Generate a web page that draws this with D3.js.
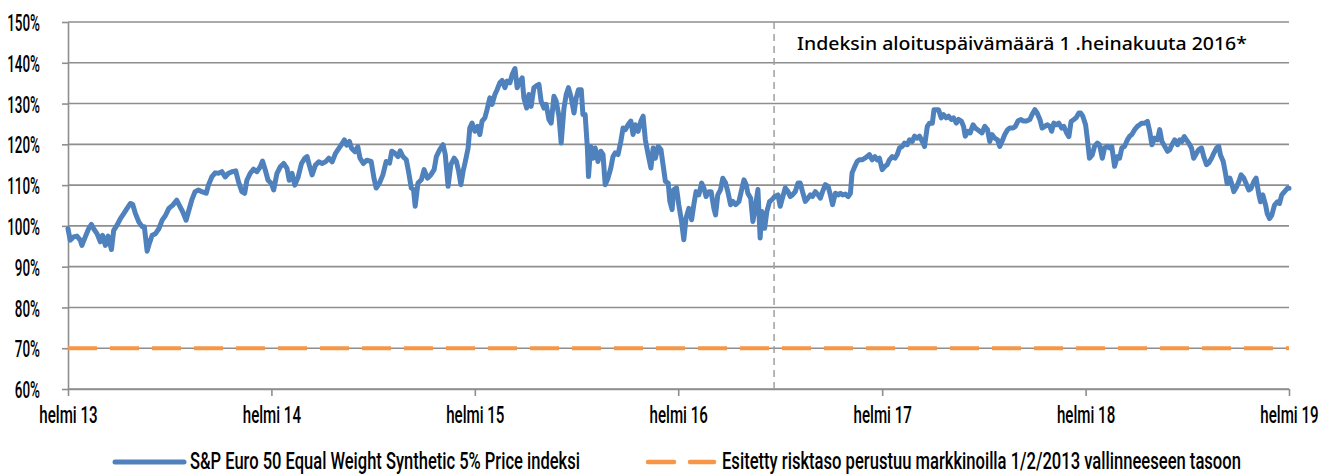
<!DOCTYPE html>
<html>
<head>
<meta charset="utf-8">
<script src="https://cdn.jsdelivr.net/npm/d3@7"></script>
<style>
    body { margin: 0; background: #fff; }
    svg { display: block; }
</style>
</head>
<body>
<svg id="chart" width="1332" height="476"></svg>
<script>
// Chart data

const startDate = new Date(2013, 1, 1);   // helmi 13
const endDate = new Date(2019, 1, 1);     // helmi 19

const xTickDates = [
    new Date(2013, 1, 1), new Date(2014, 1, 1), new Date(2015, 1, 1), new Date(2016, 1, 1),
    new Date(2017, 1, 1), new Date(2018, 1, 1), new Date(2019, 1, 1)
];
const xTickLabels = ['helmi 13', 'helmi 14', 'helmi 15', 'helmi 16', 'helmi 17', 'helmi 18', 'helmi 19'];
const yTicks = [60, 70, 80, 90, 100, 110, 120, 130, 140, 150];

const riskLevel = 70;            // % level of the dashed orange line
const launchDayOffset = 1267;    // days after startDate where the dashed marker sits

const seriesName = 'S&P Euro 50 Equal Weight Synthetic 5% Price indeksi';
const riskName = 'Esitetty risktaso perustuu markkinoilla 1/2/2013 vallinneeseen tasoon';
const launchNote = 'Indeksin aloituspäivämäärä 1 .heinakuuta 2016*';

// [days after startDate, index level %]
const indexSeries = [
    [0, 99.3], [4, 96.5], [10, 97.3], [16, 97.5], [22, 96.5], [25, 95.2], [31, 97.3], [37, 99.3],
    [42, 100.4], [46, 99.3], [52, 98.1], [58, 96.1], [62, 97.7], [67, 95.2], [72, 97.5], [78, 94.2],
    [82, 98.9], [88, 100.2], [94, 101.8], [100, 103.0], [106, 104.3], [112, 105.5], [116, 105.3],
    [121, 103.0], [127, 101.0], [133, 99.8], [137, 99.8], [142, 93.8], [146, 95.7], [151, 97.7],
    [157, 98.1], [163, 99.3], [169, 101.4], [175, 102.6], [181, 104.3], [188, 105.1], [195, 106.3],
    [201, 104.7], [206, 103.4], [212, 101.4], [216, 103.4], [222, 106.3], [228, 108.4], [234, 108.8],
    [240, 108.4], [248, 108.0], [252, 110.0], [258, 112.0], [264, 113.0], [270, 112.9], [276, 113.3],
    [282, 112.0], [288, 112.9], [295, 113.3], [301, 113.5], [306, 110.8], [312, 108.4], [317, 108.0],
    [321, 111.2], [327, 112.9], [333, 113.9], [339, 113.3], [345, 114.5], [349, 115.9], [354, 113.7],
    [359, 111.2], [365, 110.4], [369, 108.8], [375, 112.9], [381, 114.5], [387, 115.3], [393, 114.1],
    [397, 111.2], [402, 112.9], [407, 110.0], [413, 112.0], [419, 115.3], [425, 116.6], [429, 117.0],
    [433, 114.9], [438, 112.5], [444, 114.9], [450, 115.7], [456, 115.3], [462, 115.7], [468, 116.6],
    [474, 115.7], [480, 117.8], [486, 119.0], [492, 120.2], [496, 121.1], [500, 119.8], [505, 120.7],
    [509, 119.0], [515, 118.2], [520, 119.4], [524, 116.6], [530, 115.3], [536, 116.1],
    [544, 115.8], [549, 111.7], [553, 109.3], [559, 110.5], [565, 112.5], [571, 115.8], [577, 115.4],
    [581, 118.3], [586, 117.9], [592, 117.0], [596, 118.4], [601, 117.0], [607, 116.2], [611, 113.4],
    [616, 109.3], [620, 108.9], [623, 104.8], [628, 110.5], [634, 111.3], [639, 113.8], [645, 111.7],
    [651, 112.5], [657, 113.8], [661, 117.0], [667, 118.7], [673, 119.9], [677, 117.5], [682, 109.7],
    [687, 115.0], [693, 116.6], [697, 115.8], [701, 113.4], [705, 110.1], [709, 113.4], [713, 115.8],
    [718, 119.1], [721, 124.0], [725, 125.2], [730, 123.2], [735, 124.4], [739, 122.4], [743, 125.7],
    [748, 126.5], [752, 128.5], [757, 131.4], [761, 129.8], [766, 132.2], [770, 133.4], [775, 135.1],
    [779, 135.7], [784, 133.9], [788, 135.5], [793, 135.1], [797, 137.1], [802, 138.6], [806, 133.9],
    [811, 135.5], [815, 136.3], [818, 131.4], [823, 128.9], [827, 132.2], [831, 129.3], [836, 133.9],
    [840, 134.3], [845, 134.7], [849, 130.6], [854, 128.9], [858, 129.8], [863, 126.1], [867, 125.2],
    [872, 131.8], [876, 130.6], [881, 126.9], [885, 120.3], [890, 128.9], [894, 132.2], [898, 133.9],
    [903, 131.4], [908, 127.7], [912, 131.4], [916, 133.4], [921, 133.4], [924, 127.3], [928, 127.3],
    [932, 119.1], [934, 112.1], [938, 119.5], [942, 116.6], [946, 119.1], [951, 115.8], [956, 118.3],
    [960, 117.5], [964, 110.1], [969, 111.7], [974, 114.2], [978, 117.0], [982, 117.9], [987, 117.5],
    [992, 120.7], [996, 124.0], [1000, 123.6], [1005, 124.8], [1010, 125.7], [1014, 122.4], [1018, 124.8],
    [1023, 123.2], [1028, 125.7], [1032, 126.9], [1036, 121.1], [1041, 117.5], [1046, 114.2], [1050, 119.1],
    [1054, 116.6], [1059, 119.5], [1064, 118.7], [1068, 114.8], [1072, 110.9], [1077, 110.5], [1080, 106.0],
    [1084, 104.0], [1087, 108.9], [1092, 109.3],
    [1096, 105.2], [1101, 101.1], [1105, 96.6], [1109, 101.9], [1114, 104.3], [1119, 101.5], [1123, 105.2],
    [1127, 108.4], [1132, 107.6], [1137, 110.5], [1141, 109.3], [1145, 107.2], [1150, 108.4], [1154, 108.4],
    [1159, 104.3], [1162, 102.7], [1166, 107.6], [1171, 108.9], [1175, 111.7], [1180, 110.5], [1184, 108.4],
    [1189, 105.2], [1193, 106.0], [1198, 105.2], [1204, 106.0], [1208, 108.4], [1213, 111.3], [1217, 110.1],
    [1220, 108.0], [1225, 106.8], [1229, 101.1], [1233, 104.3], [1238, 108.9], [1242, 97.0], [1245, 103.5],
    [1250, 99.4], [1254, 103.5], [1259, 106.0], [1263, 106.4], [1268, 107.2], [1274, 107.6], [1278, 104.8],
    [1282, 106.8], [1287, 109.3], [1292, 108.4], [1296, 107.2], [1300, 107.6], [1305, 108.4], [1310, 110.5],
    [1314, 110.5], [1318, 108.4], [1323, 106.0], [1328, 106.8], [1332, 107.6], [1336, 107.2], [1341, 108.4],
    [1346, 107.6], [1350, 106.8], [1354, 108.4], [1359, 110.1], [1364, 109.7], [1368, 107.6], [1372, 105.2],
    [1377, 108.0], [1382, 107.6], [1386, 108.0], [1390, 107.6], [1395, 107.8], [1400, 107.2], [1404, 108.0],
    [1407, 113.0], [1412, 114.6], [1416, 115.8], [1420, 116.2], [1425, 116.2], [1430, 116.6], [1434, 117.0],
    [1438, 117.5], [1443, 116.2], [1448, 117.0], [1452, 116.2], [1456, 116.6], [1461, 113.8], [1466, 114.6],
    [1470, 115.0], [1474, 116.2], [1479, 117.0], [1484, 116.6], [1488, 117.5], [1492, 119.1], [1497, 119.5],
    [1501, 120.3], [1506, 119.9], [1510, 121.1], [1515, 120.7], [1519, 122.0], [1524, 121.5], [1528, 122.0],
    [1533, 120.7], [1537, 119.5], [1542, 124.4], [1546, 125.2], [1551, 125.2], [1554, 128.5], [1558, 128.5],
    [1562, 128.5], [1567, 126.5], [1571, 127.3], [1576, 126.5], [1580, 126.9], [1585, 126.1], [1589, 126.5],
    [1594, 125.2], [1598, 126.1], [1603, 125.7], [1607, 124.4], [1610, 122.0], [1615, 123.2], [1619, 122.8],
    [1624, 124.8], [1628, 124.0], [1633, 123.5],
    [1640, 122.8], [1645, 124.4], [1650, 123.6], [1654, 120.7], [1658, 122.4], [1663, 121.5], [1668, 121.1],
    [1672, 119.5], [1676, 120.7], [1681, 122.4], [1686, 123.6], [1690, 124.0], [1696, 124.0], [1700, 124.4],
    [1705, 125.8], [1710, 126.1], [1714, 125.7], [1720, 125.7], [1726, 126.1], [1730, 127.3], [1735, 128.5],
    [1739, 127.7], [1744, 126.1], [1748, 124.0], [1753, 124.4], [1757, 124.8], [1762, 124.4], [1765, 123.2],
    [1769, 125.2], [1774, 124.8], [1778, 125.2], [1783, 124.0], [1787, 124.4], [1792, 122.8], [1796, 121.9],
    [1800, 125.6], [1805, 126.1], [1809, 126.5], [1814, 127.7], [1817, 127.7], [1821, 126.9], [1826, 124.8],
    [1829, 121.5], [1833, 116.6], [1838, 117.4], [1842, 119.5], [1847, 120.3], [1851, 119.9], [1856, 116.6],
    [1860, 119.1], [1865, 119.5], [1869, 119.1], [1873, 119.5], [1878, 114.6], [1883, 117.0], [1887, 116.6],
    [1891, 119.1], [1896, 119.5], [1901, 121.1], [1905, 122.0], [1909, 122.4], [1914, 123.6], [1919, 124.4],
    [1923, 124.8], [1927, 125.2], [1932, 125.2], [1937, 125.6], [1941, 123.2], [1945, 119.9], [1950, 121.5],
    [1955, 121.1], [1959, 123.6], [1963, 120.7], [1968, 119.5], [1973, 118.3], [1977, 118.7], [1981, 119.9],
    [1986, 121.1], [1991, 119.9], [1995, 121.1], [1999, 120.7], [2003, 121.9], [2007, 121.1], [2011, 120.3],
    [2016, 119.1], [2020, 116.6], [2025, 117.8], [2029, 118.7], [2034, 119.1], [2038, 117.0], [2043, 115.0],
    [2047, 115.4], [2052, 116.6], [2056, 117.8], [2061, 119.1], [2065, 119.5], [2068, 117.4], [2073, 115.8],
    [2077, 112.9], [2080, 110.4], [2085, 111.7], [2089, 110.0], [2092, 108.4], [2097, 109.6], [2101, 110.9],
    [2105, 112.5], [2110, 111.7], [2114, 110.4], [2119, 108.8], [2123, 109.2], [2128, 110.9], [2132, 111.7],
    [2137, 107.6], [2140, 105.9], [2144, 107.6], [2149, 105.1], [2152, 103.0], [2156, 101.8], [2160, 102.6],
    [2165, 105.1], [2170, 105.9], [2174, 105.5], [2178, 107.6], [2183, 108.4], [2188, 109.2], [2191, 109.2]
];

// Layout
const plot = { left: 68, right: 1289, top: 22, bottom: 389 };
const condensedFont = 'Roboto, "Liberation Sans", sans-serif';
const blue = '#4f81bd';
const orange = '#f79646';
const gridColor = '#8e8e8e';

const svg = d3.select('#chart');

const x = d3.scaleTime()
    .domain([startDate, endDate])
    .range([plot.left, plot.right]);

const y = d3.scaleLinear()
    .domain([60, 150])
    .range([plot.bottom, plot.top]);

// squeeze axis text horizontally to mimic the narrow font
function condense(texts, sx) {
    texts.each(function() {
        const t = d3.select(this);
        const tx = +t.attr('x') || 0;
        const ty = +t.attr('y') || 0;
        t.attr('x', 0).attr('y', 0)
            .attr('transform', `translate(${tx},${ty}) scale(${sx},1)`);
    });
}

// place a text at (tx, ty) squeezed to a given width
function fitText(str, tx, ty, width, size, family, weight) {
    const t = svg.append('text')
        .attr('x', 0).attr('y', 0)
        .style('font-family', family)
        .style('font-size', size + 'px')
        .style('font-weight', weight)
        .attr('fill', '#000')
        .text(str);
    const sx = width / t.node().getComputedTextLength();
    t.attr('transform', `translate(${tx},${ty}) scale(${sx},1)`);
    return t;
}

// Horizontal gridlines
svg.append('g')
    .selectAll('line')
    .data(yTicks)
    .enter()
    .append('line')
    .attr('x1', plot.left)
    .attr('x2', plot.right)
    .attr('y1', d => y(d))
    .attr('y2', d => y(d))
    .attr('stroke', gridColor)
    .attr('stroke-width', 1.6);

// Y axis
const yAxis = svg.append('g')
    .attr('transform', `translate(${plot.left},0)`)
    .call(d3.axisLeft(y)
        .tickValues(yTicks)
        .tickSize(6)
        .tickSizeOuter(0)
        .tickPadding(22)
        .tickFormat(d => d + '%'));

yAxis.select('.domain').attr('stroke', gridColor).attr('stroke-width', 1.6);
yAxis.selectAll('.tick line').attr('stroke', gridColor).attr('stroke-width', 1.6);
yAxis.selectAll('.tick text')
    .attr('fill', '#000')
    .style('font-family', condensedFont)
    .style('font-weight', 500)
    .style('font-size', '24px')
    .attr('dy', '0.36em');
condense(yAxis.selectAll('.tick text'), 0.56);

// X axis
const xAxis = svg.append('g')
    .attr('transform', `translate(0,${plot.bottom})`)
    .call(d3.axisBottom(x)
        .tickValues(xTickDates)
        .tickSize(7)
        .tickSizeOuter(0)
        .tickPadding(10)
        .tickFormat((d, i) => xTickLabels[i]));

xAxis.select('.domain').attr('stroke', gridColor).attr('stroke-width', 1.6);
xAxis.selectAll('.tick line').attr('stroke', gridColor).attr('stroke-width', 1.6);
xAxis.selectAll('.tick text')
    .attr('fill', '#000')
    .style('font-family', condensedFont)
    .style('font-weight', 500)
    .style('font-size', '24px');
condense(xAxis.selectAll('.tick text'), 0.63);

// Launch date marker
const launchDate = d3.timeDay.offset(startDate, launchDayOffset);
svg.append('line')
    .attr('x1', x(launchDate))
    .attr('x2', x(launchDate))
    .attr('y1', plot.top)
    .attr('y2', plot.bottom)
    .attr('stroke', '#a0a0a0')
    .attr('stroke-width', 1.5)
    .attr('stroke-dasharray', '7,5');

fitText(launchNote, x(launchDate) + 23, 50, 450, 17.5, '"Noto Sans", "Open Sans", sans-serif', 500);

// Risk level line
svg.append('line')
    .attr('x1', plot.left)
    .attr('x2', plot.right)
    .attr('y1', y(riskLevel))
    .attr('y2', y(riskLevel))
    .attr('stroke', orange)
    .attr('stroke-width', 4)
    .attr('stroke-dasharray', '29,13');

// Index line
const line = d3.line()
    .x(d => x(d3.timeDay.offset(startDate, d[0])))
    .y(d => y(d[1]));

svg.append('path')
    .datum(indexSeries)
    .attr('fill', 'none')
    .attr('stroke', blue)
    .attr('stroke-width', 5)
    .attr('stroke-linejoin', 'round')
    .attr('stroke-linecap', 'round')
    .attr('d', line);

// Legend
const legendY = 462;

svg.append('line')
    .attr('x1', 115).attr('x2', 184)
    .attr('y1', legendY).attr('y2', legendY)
    .attr('stroke', blue)
    .attr('stroke-width', 5)
    .attr('stroke-linecap', 'round');

fitText(seriesName, 190, legendY + 7, 390, 23, condensedFont, 500);

svg.append('line')
    .attr('x1', 648).attr('x2', 714)
    .attr('y1', legendY).attr('y2', legendY)
    .attr('stroke', orange)
    .attr('stroke-width', 4.5)
    .attr('stroke-linecap', 'round')
    .attr('stroke-dasharray', '26,16');

fitText(riskName, 722, legendY + 7, 519, 23, condensedFont, 500);
</script>
</body>
</html>
